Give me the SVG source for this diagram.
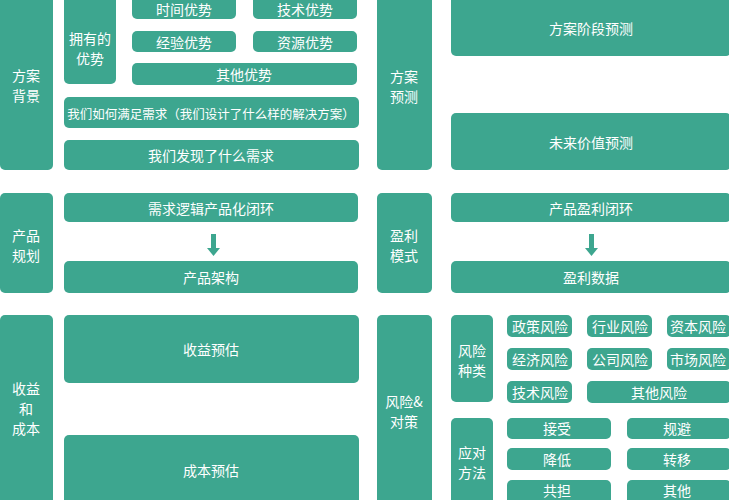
<svg xmlns="http://www.w3.org/2000/svg" width="729" height="500" viewBox="0 0 729 500">
<style>
.b{fill:#3da68f}
text{fill:#ffffff;font-family:"Noto Sans CJK SC","Noto Sans",sans-serif;font-size:14px;text-anchor:middle;dominant-baseline:central}
.l{font-size:14px}
.s{font-size:12.5px}
</style>
<rect width="729" height="500" fill="#ffffff"/>

<g id="fangan-beijing"><rect class="b" x="0" y="-10" width="53" height="180" rx="5"/><text class="l" x="26" y="75">方案</text><text class="l" x="26" y="95">背景</text></g>
<g id="yongyou-youshi"><rect class="b" x="64" y="-10" width="52" height="94" rx="5"/><text class="l" x="90" y="38">拥有的</text><text class="l" x="90" y="58">优势</text></g>
<g id="shijian"><rect class="b" x="132" y="-10" width="104" height="29" rx="5"/><text x="184" y="9">时间优势</text></g>
<g id="jishu"><rect class="b" x="253" y="-10" width="104" height="29" rx="5"/><text x="305" y="9">技术优势</text></g>
<g id="jingyan"><rect class="b" x="132" y="31" width="104" height="21" rx="5"/><text x="184" y="42">经验优势</text></g>
<g id="ziyuan"><rect class="b" x="253" y="31" width="104" height="21" rx="5"/><text x="305" y="42">资源优势</text></g>
<g id="qita-youshi"><rect class="b" x="132" y="63" width="225" height="22" rx="5"/><text x="244" y="74">其他优势</text></g>
<g id="manzu"><rect class="b" x="64" y="97" width="295" height="31" rx="5"/><text class="s" x="211" y="113">我们如何满足需求（我们设计了什么样的解决方案）</text></g>
<g id="faxian"><rect class="b" x="64" y="140" width="295" height="30" rx="5"/><text x="211" y="155">我们发现了什么需求</text></g>

<g id="fangan-yuce"><rect class="b" x="377" y="-10" width="55" height="180" rx="5"/><text class="l" x="404" y="76">方案</text><text class="l" x="404" y="96">预测</text></g>
<g id="jieduan"><rect class="b" x="451" y="-10" width="280" height="66" rx="5"/><text x="591" y="28">方案阶段预测</text></g>
<g id="weilai"><rect class="b" x="451" y="113" width="280" height="57" rx="5"/><text x="591" y="142">未来价值预测</text></g>

<g id="chanpin-guihua"><rect class="b" x="0" y="193" width="53" height="100" rx="5"/><text class="l" x="26" y="235">产品</text><text class="l" x="26" y="255">规划</text></g>
<g id="bihuan"><rect class="b" x="64" y="193" width="294" height="29" rx="5"/><text x="211" y="208">需求逻辑产品化闭环</text></g>
<g id="jiagou"><rect class="b" x="64" y="261" width="294" height="32" rx="5"/><text x="211" y="277">产品架构</text></g>
<g id="yingli-moshi"><rect class="b" x="377" y="193" width="55" height="100" rx="5"/><text class="l" x="404" y="235">盈利</text><text class="l" x="404" y="255">模式</text></g>
<g id="yingli-bihuan"><rect class="b" x="451" y="193" width="280" height="29" rx="5"/><text x="591" y="208">产品盈利闭环</text></g>
<g id="yingli-shuju"><rect class="b" x="451" y="261" width="280" height="32" rx="5"/><text x="591" y="277">盈利数据</text></g>

<g id="connectors">
<path d="M211,234 V248 H207 L213.5,256 L220,248 H216 V234 Z" fill="#3da68f"/>
<path d="M589,234 V248 H585 L591.5,256 L598,248 H594 V234 Z" fill="#3da68f"/>
</g>

<g id="shouyi-chengben"><rect class="b" x="0" y="315" width="53" height="195" rx="5"/><text class="l" x="26" y="388">收益</text><text class="l" x="26" y="408">和</text><text class="l" x="26" y="428">成本</text></g>
<g id="shouyi"><rect class="b" x="64" y="315" width="295" height="68" rx="5"/><text x="211" y="349">收益预估</text></g>
<g id="chengben"><rect class="b" x="64" y="435" width="295" height="75" rx="5"/><text x="211" y="470">成本预估</text></g>

<g id="fengxian-duice"><rect class="b" x="377" y="315" width="55" height="195" rx="5"/><text class="l" x="404" y="401">风险&amp;</text><text class="l" x="404" y="421">对策</text></g>
<g id="fengxian-zhonglei"><rect class="b" x="451" y="315" width="42" height="87" rx="5"/><text class="l" x="472" y="350">风险</text><text class="l" x="472" y="370">种类</text></g>
<g id="zhengce"><rect class="b" x="507" y="315" width="65" height="22" rx="5"/><text x="540" y="326">政策风险</text></g>
<g id="hangye"><rect class="b" x="587" y="315" width="65" height="22" rx="5"/><text x="620" y="326">行业风险</text></g>
<g id="ziben"><rect class="b" x="667" y="315" width="64" height="22" rx="5"/><text x="698" y="326">资本风险</text></g>
<g id="jingji"><rect class="b" x="507" y="348" width="65" height="22" rx="5"/><text x="540" y="359">经济风险</text></g>
<g id="gongsi"><rect class="b" x="587" y="348" width="65" height="22" rx="5"/><text x="620" y="359">公司风险</text></g>
<g id="shichang"><rect class="b" x="667" y="348" width="64" height="22" rx="5"/><text x="698" y="359">市场风险</text></g>
<g id="jishu-fengxian"><rect class="b" x="507" y="381" width="65" height="22" rx="5"/><text x="540" y="392">技术风险</text></g>
<g id="qita-fengxian"><rect class="b" x="587" y="381" width="144" height="22" rx="5"/><text x="659" y="392">其他风险</text></g>

<g id="yingdui-fangfa"><rect class="b" x="451" y="418" width="42" height="92" rx="5"/><text class="l" x="472" y="452">应对</text><text class="l" x="472" y="472">方法</text></g>
<g id="jieshou"><rect class="b" x="507" y="418" width="104" height="21" rx="5"/><text x="557" y="428">接受</text></g>
<g id="guibi"><rect class="b" x="627" y="418" width="104" height="21" rx="5"/><text x="677" y="428">规避</text></g>
<g id="jiangdi"><rect class="b" x="507" y="448" width="104" height="22" rx="5"/><text x="557" y="459">降低</text></g>
<g id="zhuanyi"><rect class="b" x="627" y="448" width="104" height="22" rx="5"/><text x="677" y="459">转移</text></g>
<g id="gongdan"><rect class="b" x="507" y="480" width="104" height="30" rx="5"/><text x="557" y="490">共担</text></g>
<g id="qita"><rect class="b" x="627" y="480" width="104" height="30" rx="5"/><text x="677" y="490">其他</text></g>
</svg>
